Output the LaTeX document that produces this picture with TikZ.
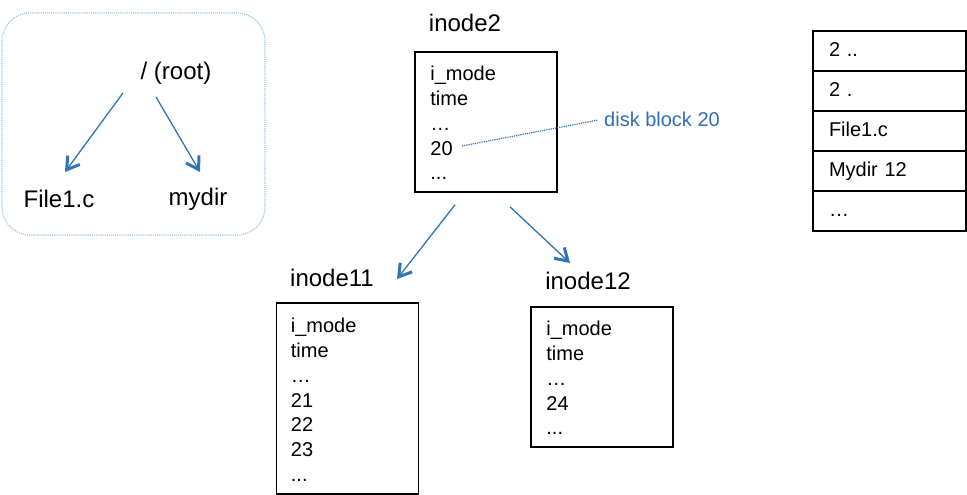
\documentclass[tikz,border=0pt]{standalone}
\usepackage{fontspec}
\setmainfont{Liberation Sans}
\usepackage{xcolor}
\usetikzlibrary{calc,arrows.meta,positioning}
\definecolor{linkblue}{HTML}{2E75B6}
\definecolor{diskblue}{HTML}{2F6EB5}
\definecolor{frameblue}{HTML}{9DC3E6}

\begin{document}
\begin{tikzpicture}[x=1pt,y=-1pt,>={Straight Barb[length=12pt,width=15pt,line width=3pt]},
  every node/.style={inner sep=0pt,font=\fontsize{20}{24.75}\selectfont},
  title/.style={font=\fontsize{24}{28}\selectfont},
  inodebox/.style={draw,line width=1.6pt,minimum width=142pt,minimum height=140pt},
  fields/.style={align=left,anchor=north west},
  dirrow/.style={draw,line width=1.4pt,minimum width=153pt,minimum height=40pt,
    text width=121pt,text height=15pt,text depth=4pt,align=left},
  link/.style={->,draw=linkblue,line width=1.3pt}]
  \useasboundingbox (0,0) rectangle (967,495);

  % --- Directory tree ---
  \node[draw=frameblue,densely dotted,line width=1.1pt,rounded corners=28pt,
    minimum width=263pt,minimum height=222pt] (tree) at (133.5,124) {};
  \node[title] (root) at (176,73) {/ (root)};
  \node[title] (file) at (59,199) {File1.c};
  \node[title] (mydir) at (198,199) {mydir};
  \draw[link] ($(root)+(-53,20)$) -- ($(file)+(6,-27)$);
  \draw[link] ($(root)+(-20,24)$) -- ($(mydir)+(2,-27)$);

  % --- inode2 ---
  \node[title] (lab2) at (465,23) {inode2};
  \node[inodebox] (in2) at (486,122) {};
  \node[fields] (in2f) at ($(in2.north west)+(16,15)$) {i\_mode\\time\\…\\20\\...};
  \coordinate (blk20) at ($(in2)+(-24,24)$);
  \node[text=diskblue,anchor=west] (disk) at (604,119) {disk block 20};
  \draw[diskblue,densely dotted,line width=1.2pt] (blk20) -- ($(disk.west)+(-6,1)$);

  % --- inode11 ---
  \node[title] (lab11) at (332,278) {inode11};
  \node[inodebox,minimum height=191pt] (in11) at (347.5,398.5) {};
  \node[fields] (in11f) at ($(in11.north west)+(15,16)$) {i\_mode\\time\\…\\21\\22\\23\\...};

  % --- inode12 ---
  \node[title] (lab12) at (588,281) {inode12};
  \node[inodebox] (in12) at (602,377) {};
  \node[fields] (in12f) at ($(in12.north west)+(16,15)$) {i\_mode\\time\\…\\24\\...};

  \draw[link] ($(in2.south)+(-31,12)$) -- ($(lab11)+(65,1)$);
  \draw[link] ($(in2.south)+(24,14)$) -- ($(lab12)+(-18,-18)$);

  % --- directory block ---
  \foreach \txt [count=\i] in {2 ..,2 .,File1.c,Mydir 12,…}
    \node[dirrow] (row\i) at (889.5,11+40*\i) {\txt};
\end{tikzpicture}
\end{document}
